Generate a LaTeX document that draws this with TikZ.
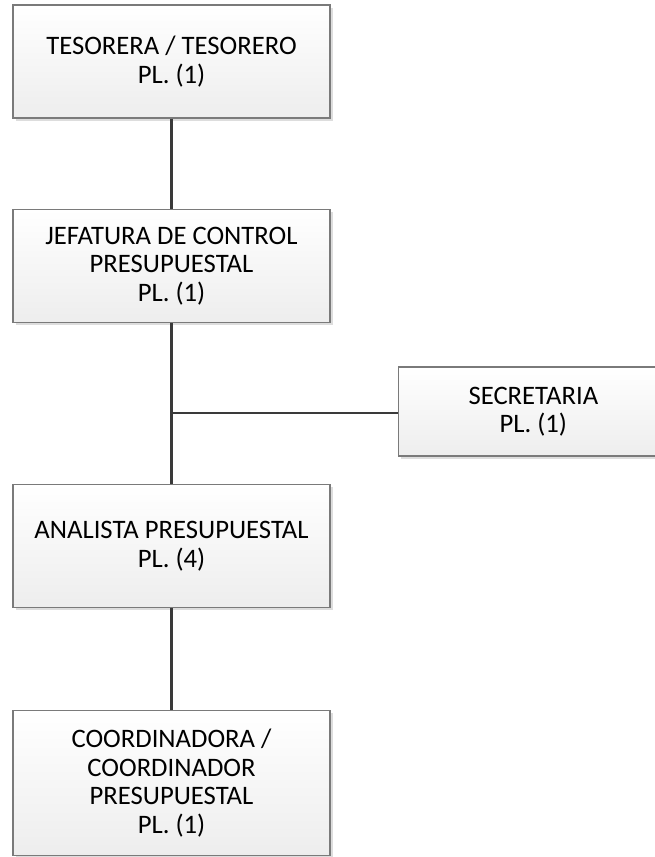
\documentclass[tikz,border=0pt]{standalone}
\usepackage{fontspec}
\setmainfont{Carlito}
\usetikzlibrary{shadows}
\definecolor{boxline}{HTML}{7A7A7A}
\definecolor{linkline}{HTML}{3A3A3A}
\tikzset{
  orgbox/.style={draw=boxline, line width=0.8pt, align=center, inner sep=0pt,
    top color=white, bottom color=gray!14,
    drop shadow={shadow xshift=2.2pt, shadow yshift=-2.2pt, fill=gray!45, opacity=0.6},
    font=\fontsize{20}{21.4}\selectfont, text=black},
  link/.style={draw=linkline, line width=1.6pt}
}
\begin{document}
\begin{tikzpicture}[x=0.75pt, y=-0.75pt]
  \useasboundingbox (0,0) rectangle (655,857);
  \node[orgbox, minimum width=237.75pt, minimum height=84.75pt] (tes) at (171.5,61.5)
    {TESORERA / TESORERO\\PL. (1)};
  \node[orgbox, minimum width=237.75pt, minimum height=84.75pt] (jef) at (171.5,266)
    {JEFATURA DE CONTROL\\PRESUPUESTAL\\PL. (1)};
  % the secretary box runs past the right margin
  \node[orgbox, minimum width=225pt, minimum height=66.75pt, anchor=west] (sec) at (397.5,411.5)
    {\hspace*{-22pt}SECRETARIA\\\hspace*{-22pt}PL. (1)};
  \node[orgbox, minimum width=237.75pt, minimum height=92.25pt] (ana) at (171.5,546)
    {ANALISTA PRESUPUESTAL\\PL. (4)};
  \node[orgbox, minimum width=237.75pt, minimum height=108.75pt] (coo) at (171.5,783)
    {COORDINADORA /\\COORDINADOR\\PRESUPUESTAL\\PL. (1)};
  \coordinate (tee) at (171.5,412.7);
  \draw[link] (tes.south) -- (jef.north);
  \draw[link] (jef.south) -- (ana.north);
  \draw[link] (tee) -- (tee -| sec.west);
  \draw[link] (ana.south) -- (coo.north);
\end{tikzpicture}
\end{document}
